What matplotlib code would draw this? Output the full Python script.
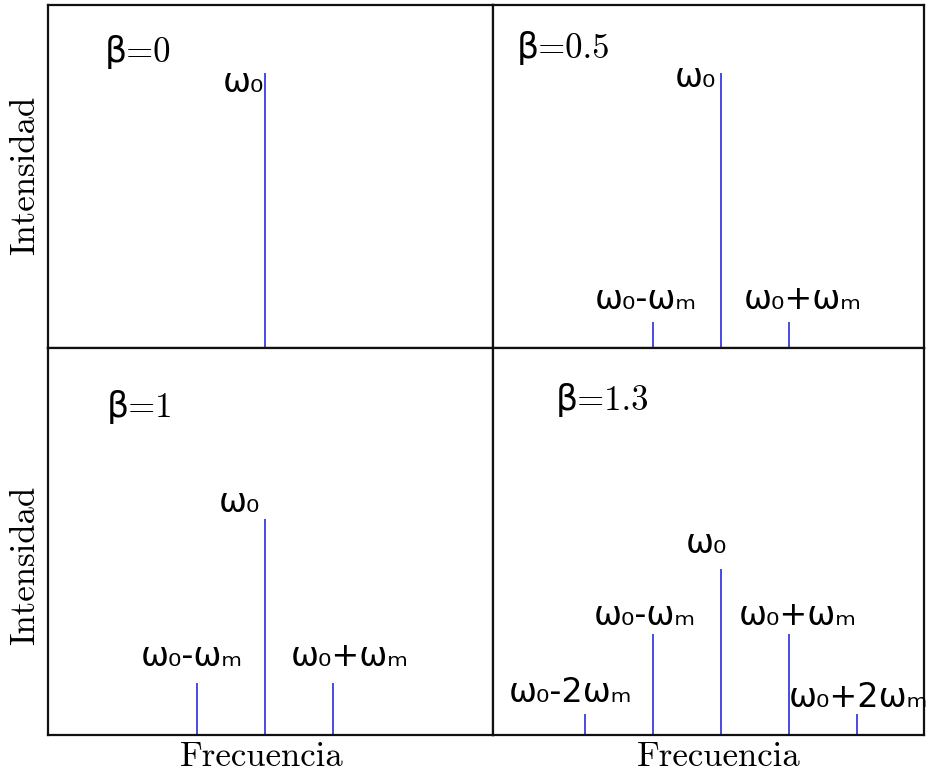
import matplotlib
matplotlib.use("Agg")
import matplotlib.pyplot as plt

# Spectral lines: offset from w0 in units of wm, and relative intensity
betas = ["0", "0.5", "1", "1.3"]
offsets = [
    [0],
    [-1, 0, 1],
    [-1, 0, 1],
    [-2, -1, 0, 1, 2],
]
intensities = [
    [1.0],
    [0.095, 1.0, 0.095],
    [0.19, 0.785, 0.19],
    [0.076, 0.367, 0.604, 0.367, 0.076],
]

# line labels per panel: (text, x, y, ha)
labels = [
    [("ω₀", -0.32, 0.967, "center")],
    [("ω₀", -0.37, 0.982, "center"),
     ("ω₀-ωₘ", -1.10, 0.175, "center"),
     ("ω₀+ωₘ", 1.21, 0.175, "center")],
    [("ω₀", -0.37, 0.844, "center"),
     ("ω₀-ωₘ", -1.07, 0.284, "center"),
     ("ω₀+ωₘ", 1.25, 0.284, "center")],
    [("ω₀", -0.22, 0.698, "center"),
     ("ω₀-ωₘ", -1.12, 0.436, "center"),
     ("ω₀+ωₘ", 1.13, 0.436, "center"),
     ("ω₀-2ωₘ", -2.21, 0.153, "center"),
     ("ω₀+2ωₘ", 0.99, 0.138, "left")],
]

W, H = 926, 774
fig = plt.figure(figsize=(W / 100, H / 100), dpi=100)


def box(x0, y0, x1, y1):
    return [x0 / W, (H - y1) / H, (x1 - x0) / W, (y1 - y0) / H]


rects = [box(48, 5, 493, 348), box(493, 5, 924, 348),
         box(48, 348, 493, 735), box(493, 348, 924, 735)]
xlims = [(-3.19, 3.35), (-3.35, 2.985), (-3.19, 3.35), (-3.35, 2.985)]
ytops = [1.247, 1.247, 1.407, 1.407]
beta_pos = [(0.128, 0.863), (0.056, 0.875), (0.133, 0.848), (0.146, 0.866)]

for i in range(4):
    ax = fig.add_axes(rects[i])
    ax.vlines(offsets[i], 0, intensities[i], color="#3c3ce0", lw=1.3)
    ax.set_xlim(*xlims[i])
    ax.set_ylim(0, ytops[i])
    ax.set_xticks([])
    ax.set_yticks([])
    for s in ax.spines.values():
        s.set_linewidth(1.6)
        s.set_color("#111111")
    for txt, x, y, ha in labels[i]:
        ax.text(x, y, txt, ha=ha, va="center", fontsize=24,
                family="DejaVu Sans")
    bx, by = beta_pos[i]
    ax.text(bx, by, "β=" + betas[i], transform=ax.transAxes,
            ha="left", va="center", fontsize=25,
            family=["cmr10", "DejaVu Sans"])

# axis titles
for yc in (175, 565):
    fig.text(25 / W, 1 - yc / H, "Intensidad", rotation=90, ha="center",
             va="center", fontsize=25, family="cmr10")
for xc in (262, 719):
    fig.text(xc / W, 1 - 757 / H, "Frecuencia", ha="center",
             va="center", fontsize=25, family="cmr10")

fig.savefig("out.png", dpi=100)
